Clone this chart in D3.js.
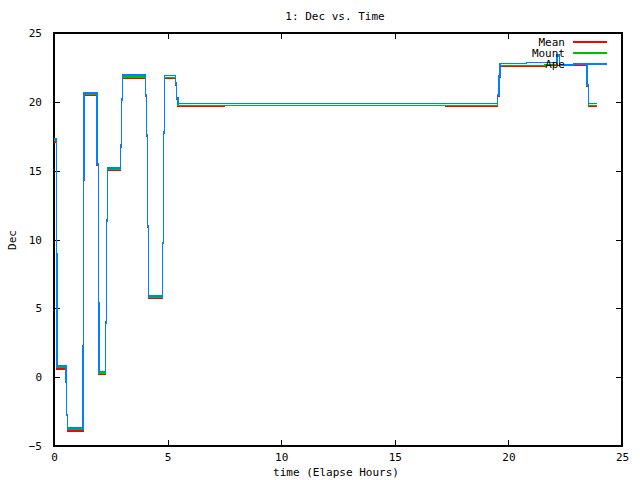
<!DOCTYPE html>
<html>
<head>
<meta charset="utf-8">
<script src="https://cdn.jsdelivr.net/npm/d3@7"></script>
<style>
  body { margin: 0; background: #fff; }
  text { font-family: "DejaVu Sans Mono", monospace; font-size: 11px; fill: #000; }
</style>
</head>
<body>
<div id="chart"></div>
<script>
// Time (elapsed hours) at which each step starts
var time = [0, 0.10, 0.14, 0.52, 0.56, 0.60, 1.27, 1.30, 1.33, 1.90, 1.95, 1.98,
            2.27, 2.31, 2.35, 2.93, 2.98, 3.02, 4.03, 4.08, 4.11, 4.15, 4.78, 4.82,
            4.86, 5.34, 5.40, 5.45, 7.51, 12.0, 17.2, 19.51, 19.58, 19.63, 20.8,
            21.6, 22.15, 22.25, 22.86, 23.47, 23.52, 23.88];

// Dec values per series (null = no data)
var meanDec = [17.1, 8.8, 0.6, -0.4, -2.8, -3.9, 2.2, 14.3, 20.5, 15.4, 5.3, 0.2,
               3.9, 11.3, 15.0, 16.7, 20.1, 21.7, 20.4, 17.5, 10.9, 5.7, 9.7, 17.7,
               21.7, 21.2, 20.2, 19.68, 19.68, null, 19.68, 20.4, 21.8, 22.58, 22.58,
               22.65, 22.65, 22.65, 22.65, 21.1, 19.68, 19.68];
var mountDec = [17.2, 8.9, 0.7, -0.35, -2.75, -3.8, 2.25, 14.35, 20.55, 15.45, 5.35, 0.3,
                3.95, 11.35, 15.1, 16.8, 20.15, 21.8, 20.45, 17.55, 10.95, 5.8, 9.75, 17.75,
                21.75, 21.3, 20.25, 19.75, 19.75, 19.75, 19.75, 20.45, 21.85, 22.65, 22.65,
                22.72, 23.3, 22.7, 22.7, 21.2, 19.75, 19.75];
var apeDec = [17.3, 9.0, 0.8, -0.3, -2.7, -3.7, 2.3, 14.4, 20.65, 15.5, 5.4, 0.4,
              4.0, 11.4, 15.2, 16.85, 20.2, 21.95, 20.5, 17.6, 11.0, 5.9, 9.8, 17.8,
              21.9, 21.35, 20.3, 19.87, 19.87, 19.87, 19.87, 20.5, 21.9, 22.77, 22.85,
              22.85, 23.4, 22.68, 22.77, 21.25, 19.87, 19.87];

var seriesNames = ['Mean', 'Mount', 'Ape'];
var seriesColors = ['#ff0000', '#00c000', '#0080ff'];
var xTicks = [0, 5, 10, 15, 20, 25];
var yTicks = [-5, 0, 5, 10, 15, 20, 25];

var width = 640, height = 480;
var plotLeft = 54, plotRight = 622, plotTop = 33, plotBottom = 446;

var svg = d3.select('#chart')
            .append('svg')
            .attr('width', width)
            .attr('height', height);

var x = d3.scaleLinear().domain([0, 25]).range([plotLeft, plotRight]);
var y = d3.scaleLinear().domain([-5, 25]).range([plotBottom, plotTop]);

// Axes with inward ticks on all four sides (gnuplot style)
svg.append('g')
   .attr('transform', 'translate(0,' + plotBottom + ')')
   .call(d3.axisBottom(x).tickValues(xTicks).tickSizeInner(-6).tickSizeOuter(0).tickPadding(7));

svg.append('g')
   .attr('transform', 'translate(' + plotLeft + ',0)')
   .call(d3.axisLeft(y).tickValues(yTicks).tickSizeInner(-6).tickSizeOuter(0).tickPadding(12));

svg.append('g')
   .attr('transform', 'translate(0,' + plotTop + ')')
   .call(d3.axisTop(x).tickValues(xTicks).tickSizeInner(-6).tickSizeOuter(0).tickFormat(''));

svg.append('g')
   .attr('transform', 'translate(' + plotRight + ',0)')
   .call(d3.axisRight(y).tickValues(yTicks).tickSizeInner(-6).tickSizeOuter(0).tickFormat(''));

svg.selectAll('.domain').remove();
svg.selectAll('.tick line').attr('stroke', '#000').attr('stroke-width', 1)
   .attr('shape-rendering', 'crispEdges');
svg.selectAll('.tick text').style('font-family', '"DejaVu Sans Mono", monospace').style('font-size', '11px');

svg.append('rect')
   .attr('x', plotLeft)
   .attr('y', plotTop)
   .attr('width', plotRight - plotLeft)
   .attr('height', plotBottom - plotTop)
   .attr('fill', 'none')
   .attr('stroke', '#000')
   .attr('stroke-width', 1.5)
   .attr('shape-rendering', 'crispEdges');

// Lines
var line = d3.line()
             .defined(function(d) { return d[1] !== null; })
             .x(function(d) { return x(d[0]); })
             .y(function(d) { return y(d[1]); })
             .curve(d3.curveStepAfter);

[meanDec, mountDec, apeDec].forEach(function(vals, i) {
  var pts = time.map(function(t, j) { return [t, vals[j]]; });
  svg.append('path')
     .datum(pts)
     .attr('fill', 'none')
     .attr('stroke', seriesColors[i])
     .attr('stroke-width', 1.5)
     .attr('shape-rendering', 'crispEdges')
     .attr('d', line);
});

// Legend
var legend = svg.append('g')
                .selectAll('g')
                .data(seriesNames)
                .enter()
                .append('g')
                .attr('transform', function(d, i) {
                  return 'translate(0,' + (42 + i * 11) + ')';
                });

legend.append('text')
      .attr('x', 565)
      .attr('dy', '0.35em')
      .attr('text-anchor', 'end')
      .text(function(d) { return d; });

legend.append('line')
      .attr('x1', 573)
      .attr('x2', 607)
      .attr('stroke', function(d, i) { return seriesColors[i]; })
      .attr('stroke-width', 1.5)
      .attr('shape-rendering', 'crispEdges');

// Title and axis labels
svg.append('text')
   .attr('x', 335)
   .attr('y', 16)
   .attr('dy', '0.35em')
   .attr('text-anchor', 'middle')
   .text('1: Dec vs. Time');

svg.append('text')
   .attr('x', 336)
   .attr('y', 472)
   .attr('dy', '0.35em')
   .attr('text-anchor', 'middle')
   .text('time (Elapse Hours)');

svg.append('text')
   .attr('transform', 'translate(12,240) rotate(-90)')
   .attr('dy', '0.35em')
   .attr('text-anchor', 'middle')
   .text('Dec');
</script>
</body>
</html>
